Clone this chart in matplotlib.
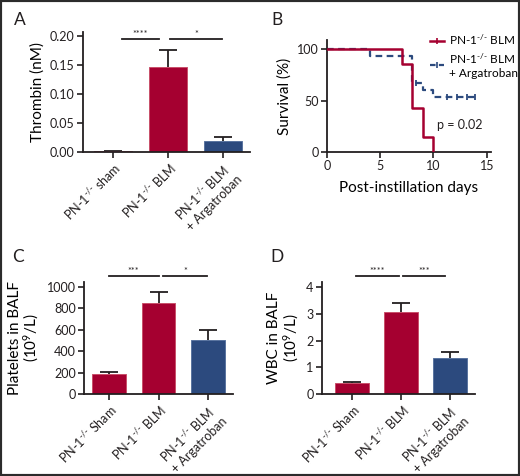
import matplotlib
matplotlib.use("Agg")
import matplotlib.pyplot as plt
from matplotlib.lines import Line2D
from matplotlib.patches import Rectangle

plt.rcParams['font.family'] = ['Lato', 'DejaVu Sans']
plt.rcParams['mathtext.fontset'] = 'custom'
plt.rcParams['mathtext.rm'] = 'Lato'
plt.rcParams['mathtext.it'] = 'Lato:italic'
plt.rcParams['mathtext.bf'] = 'Lato:bold'
plt.rcParams['mathtext.default'] = 'regular'

# ---------------- data ----------------
KO = r'PN-1$^{\text{-/-}}$'
labels_A = [KO + ' sham', KO + ' BLM', KO + ' BLM\n+ Argatroban']
labels_CD = [KO + ' Sham', KO + ' BLM', KO + ' BLM\n+ Argatroban']

thrombin_mean = [0.002, 0.146, 0.019]
thrombin_sem = [0.0, 0.030, 0.007]
thrombin_sig = ['****', '*']

platelets_mean = [186, 851, 505]
platelets_sem = [24, 102, 93]
platelets_sig = ['***', '*']

wbc_mean = [0.43, 3.06, 1.33]
wbc_sem = [0.03, 0.36, 0.24]
wbc_sig = ['****', '***']

blm_days = [0, 7, 8, 9, 10]
blm_surv = [100, 85.7, 42.9, 14.3, 0]
arg_days = [0, 4, 8, 9, 10, 14]
arg_surv = [100, 93.3, 66.7, 60.0, 53.3, 53.3]
arg_cens_days = [8.4, 11.3, 12.2, 13.1, 13.9]
arg_cens_surv = [66.7, 53.3, 53.3, 53.3, 53.3]
p_text = 'p = 0.02'
legend_labels = [KO + ' BLM', KO + ' BLM\n+ Argatroban']

RED = '#A50030'
BLUE = '#2C4A7E'
DARK = '#231F20'
bar_colors = [RED, RED, BLUE]
edge_colors = ['#C8506A', '#C8506A', '#5A74A0']

W, H = 520, 476
fig = plt.figure(figsize=(W / 100, H / 100), dpi=100)


def px_axes(l, t, r, b):
    return fig.add_axes([l / W, 1 - b / H, (r - l) / W, (b - t) / H])


def style(ax):
    for s in ['top', 'right']:
        ax.spines[s].set_visible(False)
    for s in ['left', 'bottom']:
        ax.spines[s].set_linewidth(1.3)
        ax.spines[s].set_color(DARK)
    ax.tick_params(direction='out', length=4, width=1.2, colors=DARK,
                   labelsize=9, pad=2)


def bar_panel(ax, means, sems, labels, sig, ylim, yticks, yticklabels,
              ylabel, xlim, sig_y, sig_spans, star_size=6.5):
    x = list(range(len(means)))
    ax.bar(x, means, width=0.68, color=bar_colors, edgecolor=edge_colors,
           linewidth=0.7, zorder=2)
    tops = [m + s for m, s in zip(means, sems)]
    ax.vlines(x, means, tops, color=DARK, lw=1.3, zorder=1)
    ax.plot(x, tops, linestyle='none', marker='_', markersize=13,
            markeredgewidth=1.3, color=DARK, zorder=1)
    ax.set_xlim(*xlim)
    ax.set_ylim(*ylim)
    ax.set_yticks(yticks)
    ax.set_yticklabels(yticklabels)
    ax.set_xticks(x)
    ax.set_xticklabels(labels, rotation=45, ha='right', va='top',
                       rotation_mode='anchor', fontsize=9, multialignment='left')
    ax.set_ylabel(ylabel, fontsize=11, linespacing=1.0)
    style(ax)
    for s, (x0, x1) in zip(sig, sig_spans):
        ax.plot([x0, x1], [sig_y, sig_y], color=DARK, lw=1.3, clip_on=False)
        ax.text((x0 + x1) / 2, sig_y, s, ha='center', va='bottom',
                fontsize=star_size, color=DARK, clip_on=False)


# ---------------- A ----------------
axA = px_axes(83, 32, 250, 152)
bar_panel(axA, thrombin_mean, thrombin_sem, labels_A, thrombin_sig,
          (0, 0.207), [0, 0.05, 0.10, 0.15, 0.20],
          ['0.00', '0.05', '0.10', '0.15', '0.20'],
          'Thrombin (nM)', (-0.545, 2.49), 0.195, [(0.16, 0.84), (1.04, 1.98)])

# ---------------- C ----------------
axC = px_axes(84, 282, 233, 394)
bar_panel(axC, platelets_mean, platelets_sem, labels_CD, platelets_sig,
          (0, 1047), [0, 200, 400, 600, 800, 1000],
          ['0', '200', '400', '600', '800', '1000'],
          'Platelets in BALF\n(10$^9$/L)', (-0.5, 2.5), 1103,
          [(0.0, 1.0), (1.09, 1.98)])

# ---------------- D ----------------
axD = px_axes(322, 282, 475, 394)
bar_panel(axD, wbc_mean, wbc_sem, labels_CD, wbc_sig,
          (0, 4.19), [0, 1, 2, 3, 4], ['0', '1', '2', '3', '4'],
          'WBC in BALF\n(10$^9$/L)', (-0.61, 2.51), 4.41,
          [(0.08, 0.96), (1.04, 1.9)])

# ---------------- B ----------------
axB = px_axes(327, 40, 491, 152)
axB.step(blm_days, blm_surv, where='post', color=RED, lw=1.8, zorder=3)
axB.step(arg_days, arg_surv, where='post', color=BLUE, lw=1.6,
         linestyle=(0, (3, 2)), zorder=2)
axB.plot(arg_cens_days, arg_cens_surv, linestyle='none', marker='|',
         markersize=4, markeredgewidth=1.3, color=BLUE, zorder=2)
axB.set_xlim(0, 15.4)
axB.set_ylim(0, 109)
axB.set_xticks([0, 5, 10, 15])
axB.set_yticks([0, 50, 100])
axB.set_xlabel('Post-instillation days', fontsize=11, labelpad=6)
axB.set_ylabel('Survival (%)', fontsize=11)
style(axB)
axB.text(10.3, 26, p_text, ha='left', va='center', fontsize=9, color=DARK)
handles = [Line2D([], [], color=RED, lw=1.8, marker='|', markersize=4,
                  markeredgewidth=1.2),
           Line2D([], [], color=BLUE, lw=1.6, linestyle=(0, (2.5, 1.5)),
                  marker='|', markersize=4, markeredgewidth=1.2)]
axB.legend(handles, legend_labels,
           loc='upper left', bbox_to_anchor=(0.625, 1.07), frameon=False,
           fontsize=8.5, handlelength=1.2, handletextpad=0.45, borderpad=0,
           labelspacing=0.4, borderaxespad=0)

# panel letters
for letter, (px, py) in zip('ABCD', [(20, 20), (277, 20), (18, 257), (277, 257)]):
    fig.text(px / W, 1 - py / H, letter, ha='center', va='center',
             fontsize=12.5, color=DARK)

fig.patches.append(Rectangle((0, 0), 1, 1, transform=fig.transFigure,
                             fill=False, lw=3, ec='#2b2b2b'))

fig.savefig('out.png', dpi=100, facecolor='white')
